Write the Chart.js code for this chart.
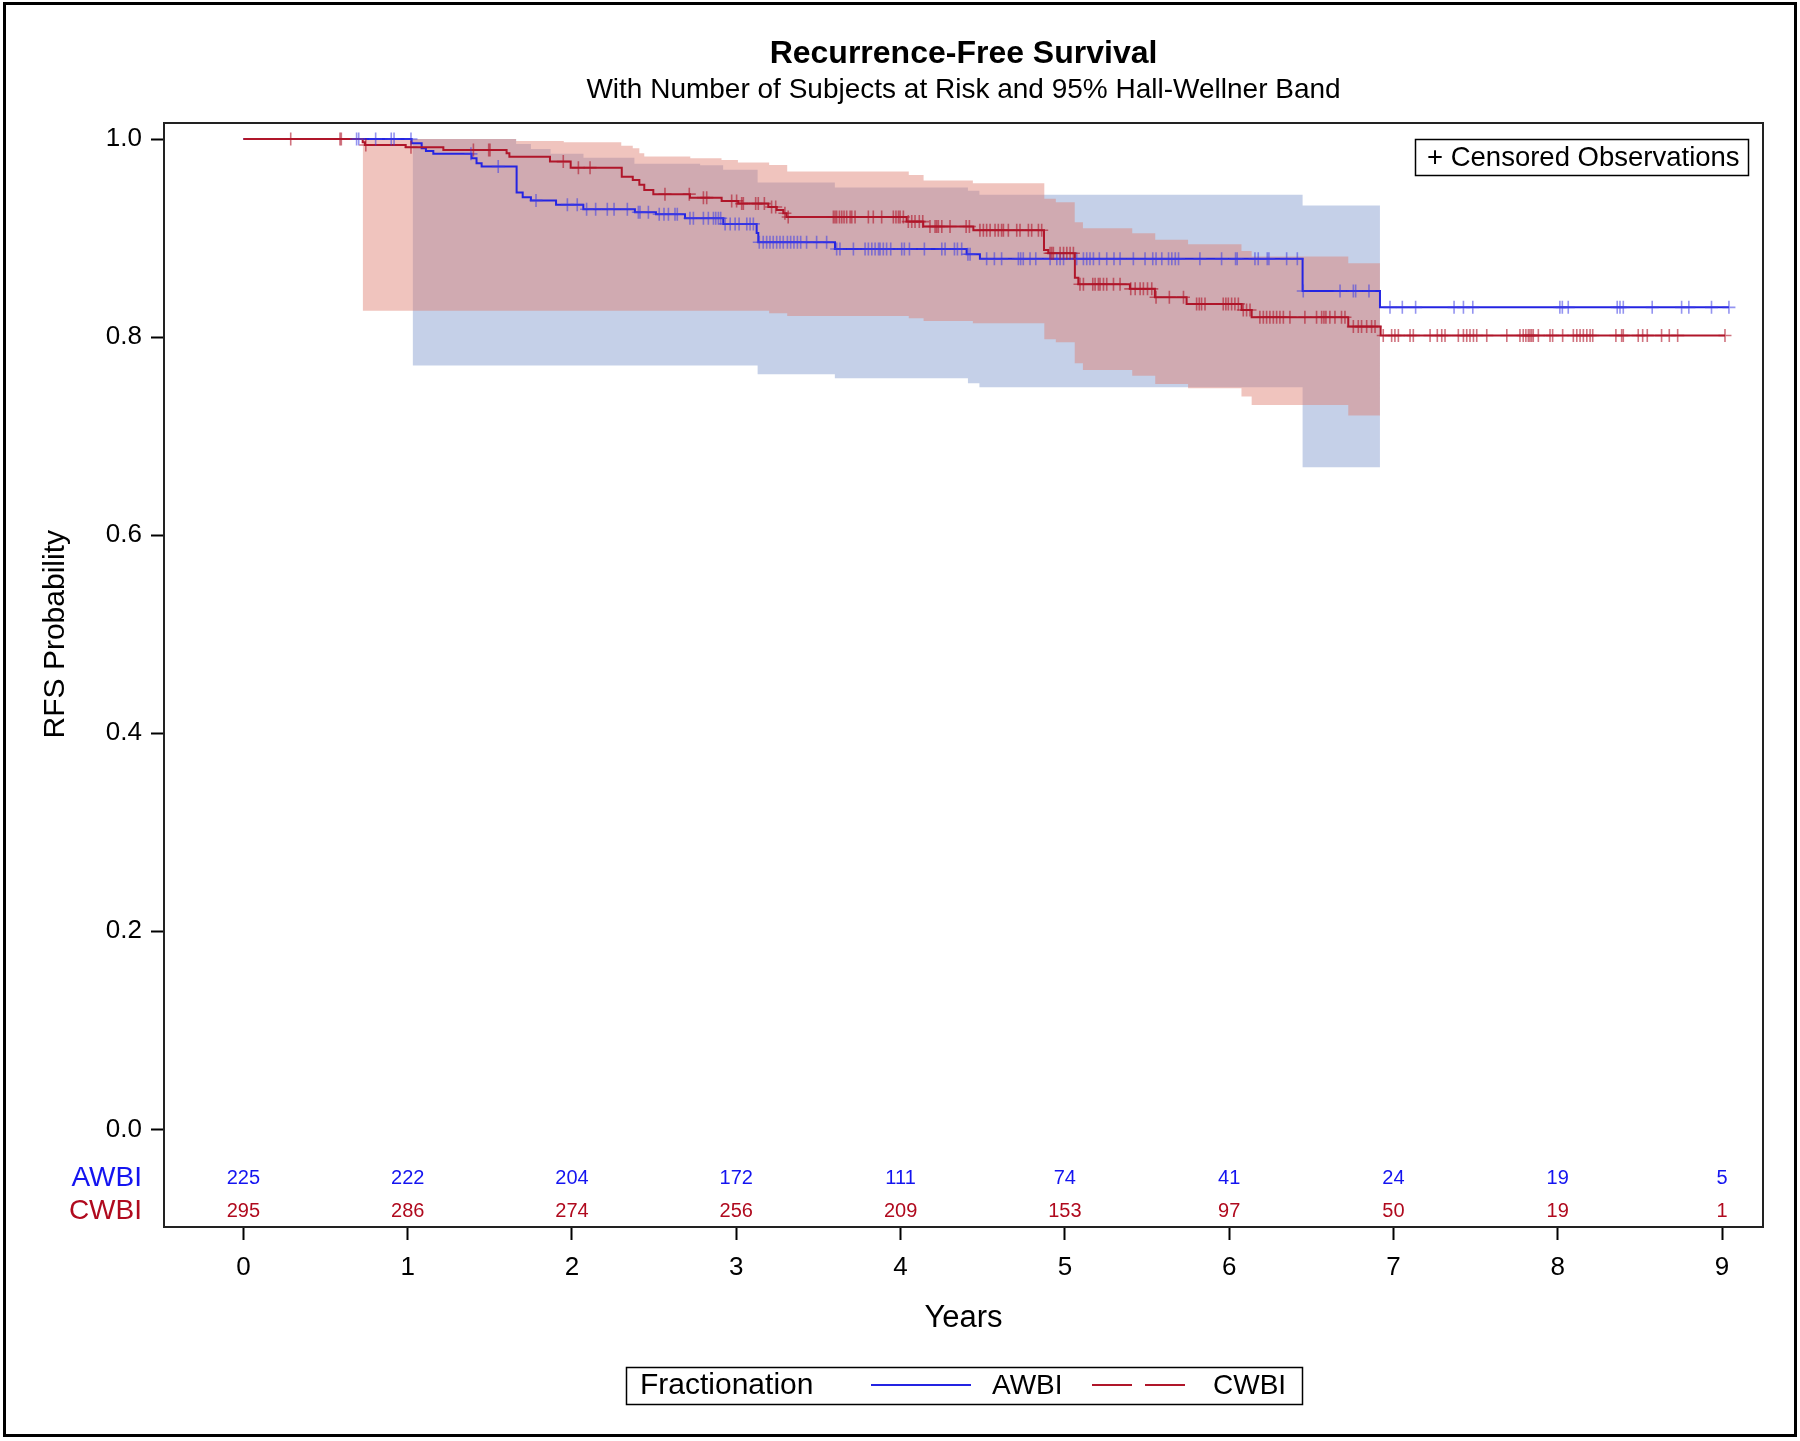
<!DOCTYPE html>
<html>
<head>
<meta charset="utf-8">
<script src="https://cdn.jsdelivr.net/npm/chart.js@4.4.1/dist/chart.umd.min.js"></script>
<style>
html,body{margin:0;padding:0;background:#fff;}
canvas{display:block;}
</style>
</head>
<body>
<canvas id="c" width="1800" height="1441" style="width:1800px;height:1441px"></canvas>
<script>
// ---------------- DATA ----------------
const titleText = 'Recurrence-Free Survival';
const subtitleText = 'With Number of Subjects at Risk and 95% Hall-Wellner Band';
const xTitle = 'Years';
const yTitle = 'RFS Probability';
const groups = ['AWBI', 'CWBI'];
const xTicks = [0, 1, 2, 3, 4, 5, 6, 7, 8, 9];
const yTicks = [0, 0.2, 0.4, 0.6, 0.8, 1.0];

// Number at risk
const atRiskTimes = [0, 1, 2, 3, 4, 5, 6, 7, 8, 9];
const awbiAtRisk = [225, 222, 204, 172, 111, 74, 41, 24, 19, 5];
const cwbiAtRisk = [295, 286, 274, 256, 209, 153, 97, 50, 19, 1];

// Kaplan-Meier step estimates (value holds from the time onward)
const awbiTimes = [0, 1.024, 1.085, 1.111, 1.156, 1.389, 1.419, 1.450, 1.663, 1.700, 1.750, 1.903, 2.069, 2.383, 2.511, 2.688, 2.921, 3.124, 3.134, 3.601, 4.402, 4.483, 6.447, 6.918];
const awbiSurv  = [1.0, 0.9956, 0.9907, 0.9880, 0.9850, 0.9806, 0.9756, 0.9722, 0.9460, 0.9413, 0.9380, 0.9337, 0.9291, 0.9260, 0.9240, 0.9200, 0.9143, 0.9050, 0.8958, 0.8890, 0.8837, 0.8790, 0.8466, 0.8300];

const cwbiTimes = [0, 0.726, 0.740, 0.988, 1.217, 1.602, 1.619, 1.866, 1.992, 2.303, 2.370, 2.410, 2.440, 2.495, 2.718, 2.911, 3.012, 3.195, 3.246, 3.286, 3.306, 4.037, 4.138, 4.443, 4.873, 4.899, 5.061, 5.082, 5.396, 5.548, 5.741, 6.076, 6.137, 6.725, 6.922];
const cwbiSurv  = [1.0, 0.9966, 0.9940, 0.9917, 0.9890, 0.9855, 0.9822, 0.9772, 0.9711, 0.9620, 0.9587, 0.9537, 0.9486, 0.9443, 0.9408, 0.9375, 0.9348, 0.9314, 0.9284, 0.9250, 0.9213, 0.9166, 0.9116, 0.9079, 0.8880, 0.8846, 0.8600, 0.8534, 0.8487, 0.8402, 0.8335, 0.8274, 0.8200, 0.8106, 0.8016];

// Censoring times
const awbiCensor = [0.689, 0.702, 0.805, 0.900, 0.917, 1.020, 1.385, 1.551, 1.781, 1.972, 2.032, 2.089, 2.144, 2.215, 2.256, 2.337, 2.404, 2.414, 2.465, 2.531, 2.560, 2.587, 2.627, 2.641, 2.718, 2.739, 2.800, 2.830, 2.861, 2.875, 2.891, 2.905, 2.932, 2.963, 2.993, 3.017, 3.064, 3.084, 3.104, 3.140, 3.164, 3.185, 3.205, 3.225, 3.246, 3.266, 3.286, 3.311, 3.331, 3.351, 3.372, 3.392, 3.428, 3.489, 3.550, 3.611, 3.631, 3.713, 3.784, 3.804, 3.825, 3.845, 3.866, 3.875, 3.895, 3.915, 3.940, 4.007, 4.023, 4.054, 4.145, 4.251, 4.271, 4.328, 4.346, 4.372, 4.410, 4.423, 4.524, 4.571, 4.615, 4.717, 4.731, 4.747, 4.788, 4.823, 4.910, 4.951, 4.971, 4.992, 5.072, 5.113, 5.133, 5.153, 5.174, 5.210, 5.255, 5.299, 5.336, 5.417, 5.488, 5.535, 5.555, 5.590, 5.631, 5.651, 5.672, 5.692, 5.822, 5.954, 6.039, 6.049, 6.157, 6.177, 6.232, 6.242, 6.350, 6.415, 6.451, 6.675, 6.756, 6.770, 6.851, 6.979, 7.054, 7.135, 7.369, 7.426, 7.483, 8.013, 8.028, 8.064, 8.362, 8.379, 8.399, 8.575, 8.754, 8.798, 8.936, 9.042];
const cwbiCensor = [0.288, 0.588, 0.596, 0.745, 1.020, 1.400, 1.493, 1.501, 1.947, 2.039, 2.110, 2.566, 2.714, 2.800, 2.820, 2.972, 3.002, 3.033, 3.043, 3.118, 3.134, 3.171, 3.215, 3.240, 3.296, 3.316, 3.591, 3.601, 3.611, 3.628, 3.642, 3.656, 3.672, 3.693, 3.703, 3.723, 3.804, 3.834, 3.885, 3.956, 3.972, 3.987, 3.997, 4.017, 4.047, 4.068, 4.088, 4.114, 4.135, 4.179, 4.210, 4.220, 4.230, 4.251, 4.301, 4.399, 4.419, 4.483, 4.504, 4.524, 4.545, 4.575, 4.595, 4.615, 4.626, 4.656, 4.707, 4.727, 4.778, 4.798, 4.839, 4.859, 4.910, 4.920, 4.930, 4.971, 4.992, 5.012, 5.032, 5.052, 5.092, 5.113, 5.170, 5.184, 5.204, 5.214, 5.235, 5.255, 5.296, 5.336, 5.401, 5.428, 5.458, 5.478, 5.503, 5.529, 5.555, 5.636, 5.722, 5.802, 5.818, 5.832, 5.853, 5.964, 5.980, 5.995, 6.015, 6.035, 6.056, 6.086, 6.106, 6.127, 6.187, 6.208, 6.228, 6.248, 6.269, 6.289, 6.309, 6.330, 6.370, 6.461, 6.532, 6.563, 6.577, 6.589, 6.613, 6.644, 6.684, 6.705, 6.756, 6.786, 6.806, 6.837, 6.867, 6.888, 6.938, 6.989, 7.009, 7.030, 7.101, 7.121, 7.223, 7.267, 7.294, 7.314, 7.395, 7.426, 7.446, 7.466, 7.487, 7.507, 7.568, 7.690, 7.770, 7.790, 7.806, 7.821, 7.831, 7.841, 7.851, 7.882, 7.953, 7.969, 8.030, 8.095, 8.116, 8.136, 8.156, 8.177, 8.197, 8.213, 8.354, 8.389, 8.399, 8.490, 8.517, 8.545, 8.632, 8.679, 8.730, 9.018];

// 95% Hall-Wellner bands (value holds from the time onward; last entry = end of band)
const awbiBandT  = [1.030, 1.660, 1.750, 1.870, 2.070, 2.380, 2.780, 2.920, 3.130, 3.600, 4.410, 4.480, 6.447, 6.918];
const awbiBandLo = [0.7712, 0.7712, 0.7712, 0.7712, 0.7712, 0.7712, 0.7712, 0.7712, 0.7625, 0.7584, 0.7534, 0.7494, 0.6686, 0.6686];
const awbiBandHi = [1.0, 0.995, 0.990, 0.985, 0.981, 0.975, 0.9735, 0.969, 0.956, 0.951, 0.9477, 0.9436, 0.9328, 0.9328];

const cwbiBandT  = [0.726, 1.660, 1.950, 2.300, 2.370, 2.410, 2.440, 2.720, 2.910, 3.010, 3.200, 3.310, 4.050, 4.140, 4.440, 4.875, 4.945, 5.060, 5.110, 5.410, 5.550, 5.750, 6.075, 6.137, 6.725, 6.918];
const cwbiBandLo = [0.8267, 0.8267, 0.8267, 0.8267, 0.8267, 0.8267, 0.8267, 0.8267, 0.8267, 0.8267, 0.8240, 0.8214, 0.8190, 0.8163, 0.8140, 0.7978, 0.7948, 0.7736, 0.7668, 0.7610, 0.7527, 0.7483, 0.7399, 0.7315, 0.7207, 0.7207];
const cwbiBandHi = [1.0, 0.998, 0.9967, 0.9933, 0.9906, 0.9857, 0.9823, 0.9806, 0.9789, 0.9762, 0.9738, 0.9671, 0.9637, 0.9580, 0.9553, 0.9396, 0.9362, 0.9160, 0.9099, 0.9049, 0.8982, 0.8938, 0.8870, 0.8813, 0.8746, 0.8746];

// ---------------- STYLE ----------------
const FONT = '"Liberation Sans", Arial, Helvetica, sans-serif';
const blueLine = 'rgb(36,36,226)';
const redLine = 'rgb(176,22,42)';
const blueMark = 'rgba(60,60,230,0.55)';
const redMark = 'rgba(176,22,42,0.6)';
const blueBand = 'rgba(127,151,204,0.45)';
const redBand = 'rgba(222,124,111,0.45)';
const blueText = 'rgb(20,20,240)';
const redText = 'rgb(176,10,30)';

// ---------------- HELPERS ----------------
function stepPoints(times, vals, endT) {
  const pts = times.map((t, i) => ({x: t, y: vals[i]}));
  if (endT !== undefined && endT > times[times.length - 1]) pts.push({x: endT, y: vals[vals.length - 1]});
  return pts;
}
function survAt(times, vals, t) {
  let v = vals[0];
  for (let i = 0; i < times.length; i++) { if (t >= times[i]) v = vals[i]; }
  return v;
}
const awbiEnd = Math.max(...awbiCensor);
const cwbiEnd = Math.max(...cwbiCensor);

const datasets = [
  { label: 'CWBI censored', data: cwbiCensor.map(t => ({x: t, y: survAt(cwbiTimes, cwbiSurv, t)})),
    showLine: false, pointStyle: 'cross', pointRadius: 6.5, pointBorderWidth: 1.6,
    pointBorderColor: redMark, pointBackgroundColor: redMark, borderColor: redMark },
  { label: 'AWBI censored', data: awbiCensor.map(t => ({x: t, y: survAt(awbiTimes, awbiSurv, t)})),
    showLine: false, pointStyle: 'cross', pointRadius: 6.5, pointBorderWidth: 1.6,
    pointBorderColor: blueMark, pointBackgroundColor: blueMark, borderColor: blueMark },
  { label: 'CWBI', data: stepPoints(cwbiTimes, cwbiSurv, cwbiEnd), stepped: true,
    borderColor: redLine, borderWidth: 2, pointRadius: 0, fill: false },
  { label: 'AWBI', data: stepPoints(awbiTimes, awbiSurv, awbiEnd), stepped: true,
    borderColor: blueLine, borderWidth: 2, pointRadius: 0, fill: false },
  { label: 'CWBI upper', data: stepPoints(cwbiBandT, cwbiBandHi), stepped: true,
    borderWidth: 0, borderColor: 'rgba(0,0,0,0)', pointRadius: 0, fill: false },
  { label: 'CWBI lower', data: stepPoints(cwbiBandT, cwbiBandLo), stepped: true,
    borderWidth: 0, borderColor: 'rgba(0,0,0,0)', pointRadius: 0, fill: '-1', backgroundColor: redBand },
  { label: 'AWBI upper', data: stepPoints(awbiBandT, awbiBandHi), stepped: true,
    borderWidth: 0, borderColor: 'rgba(0,0,0,0)', pointRadius: 0, fill: false },
  { label: 'AWBI lower', data: stepPoints(awbiBandT, awbiBandLo), stepped: true,
    borderWidth: 0, borderColor: 'rgba(0,0,0,0)', pointRadius: 0, fill: '-1', backgroundColor: blueBand }
];

// ---------------- DECORATION PLUGIN ----------------
const deco = {
  id: 'deco',
  beforeDraw(chart) {
    const ctx = chart.ctx;
    ctx.save();
    ctx.fillStyle = '#fff';
    ctx.fillRect(0, 0, chart.width, chart.height);
    ctx.restore();
  },
  afterDraw(chart) {
    const {ctx, chartArea: a, scales: {x, y}} = chart;
    const cx = (a.left + a.right) / 2;
    ctx.save();
    // plot frame
    ctx.strokeStyle = '#222';
    ctx.lineWidth = 2;
    ctx.strokeRect(a.left, a.top, a.right - a.left, a.bottom - a.top);
    // outer border
    ctx.strokeStyle = '#000';
    ctx.lineWidth = 3;
    ctx.strokeRect(4.5, 3.5, 1791, 1432);

    ctx.fillStyle = '#000';
    ctx.textAlign = 'center';
    ctx.textBaseline = 'middle';
    // titles
    ctx.font = 'bold 32px ' + FONT;
    ctx.fillText(titleText, cx, 54);
    ctx.font = '28px ' + FONT;
    ctx.fillText(subtitleText, cx, 90);
    // x title
    ctx.font = '31px ' + FONT;
    ctx.fillText(xTitle, cx, 1318);
    // y title
    ctx.save();
    ctx.translate(56, (y.getPixelForValue(yTicks[0]) + y.getPixelForValue(yTicks[yTicks.length - 1])) / 2);
    ctx.rotate(-Math.PI / 2);
    ctx.font = '30px ' + FONT;
    ctx.fillText(yTitle, 0, 0);
    ctx.restore();

    // at-risk table
    const rowA = a.bottom - 49, rowC = a.bottom - 16;
    ctx.font = '20px ' + FONT;
    atRiskTimes.forEach((t, i) => {
      const px = x.getPixelForValue(t);
      ctx.fillStyle = blueText; ctx.fillText(String(awbiAtRisk[i]), px, rowA);
      ctx.fillStyle = redText; ctx.fillText(String(cwbiAtRisk[i]), px, rowC);
    });
    ctx.textAlign = 'right';
    ctx.font = '28px ' + FONT;
    ctx.fillStyle = blueText; ctx.fillText(groups[0], 142, rowA);
    ctx.fillStyle = redText; ctx.fillText(groups[1], 142, rowC);

    // censored legend (inside plot, top right)
    ctx.strokeStyle = '#000';
    ctx.lineWidth = 1.5;
    ctx.strokeRect(1415.5, 139.5, 333, 36);
    ctx.fillStyle = '#000';
    ctx.textAlign = 'left';
    ctx.font = '27.5px ' + FONT;
    ctx.fillText('+ Censored Observations', 1427, 158);

    // bottom legend
    ctx.lineWidth = 1.5;
    ctx.strokeRect(626.5, 1367.5, 676, 37);
    ctx.font = '30px ' + FONT;
    ctx.fillText('Fractionation', 640, 1386);
    ctx.font = '28px ' + FONT;
    ctx.strokeStyle = blueLine; ctx.lineWidth = 2;
    ctx.beginPath(); ctx.moveTo(871, 1385); ctx.lineTo(971, 1385); ctx.stroke();
    ctx.fillStyle = '#000';
    ctx.fillText(groups[0], 992, 1386);
    ctx.strokeStyle = redLine;
    ctx.setLineDash([40, 13]);
    ctx.beginPath(); ctx.moveTo(1092, 1385); ctx.lineTo(1185, 1385); ctx.stroke();
    ctx.setLineDash([]);
    ctx.fillText(groups[1], 1213, 1386);
    ctx.restore();
  }
};

Chart.defaults.font.family = FONT;

new Chart(document.getElementById('c'), {
  type: 'line',
  data: { datasets },
  plugins: [deco],
  options: {
    responsive: false,
    animation: false,
    devicePixelRatio: 1,
    parsing: true,
    layout: { padding: { left: 0, right: 37, top: 123, bottom: 0 } },
    plugins: { legend: { display: false }, tooltip: { enabled: false }, title: { display: false } },
    scales: {
      x: {
        type: 'linear',
        min: -0.4833, max: 9.2494,
        afterBuildTicks: s => { s.ticks = xTicks.map(v => ({value: v})); },
        afterFit: s => { s.height = 214; },
        grid: { drawOnChartArea: false, drawTicks: true, tickLength: 13, tickColor: '#000', tickWidth: 2 },
        border: { display: true, color: '#222', width: 2 },
        ticks: { font: { size: 26, family: FONT }, color: '#000', padding: 12, autoSkip: false, maxRotation: 0,
                 callback: v => String(v) }
      },
      y: {
        type: 'linear',
        min: -0.09855, max: 1.01616,
        afterBuildTicks: s => { s.ticks = yTicks.map(v => ({value: v})); },
        afterFit: s => { s.width = 164; },
        grid: { drawOnChartArea: false, drawTicks: true, tickLength: 13, tickColor: '#000', tickWidth: 2 },
        border: { display: true, color: '#222', width: 2 },
        ticks: { font: { size: 26, family: FONT }, color: '#000', padding: 9,
                 callback: v => Number(v).toFixed(1) }
      }
    }
  }
});
</script>
</body>
</html>
